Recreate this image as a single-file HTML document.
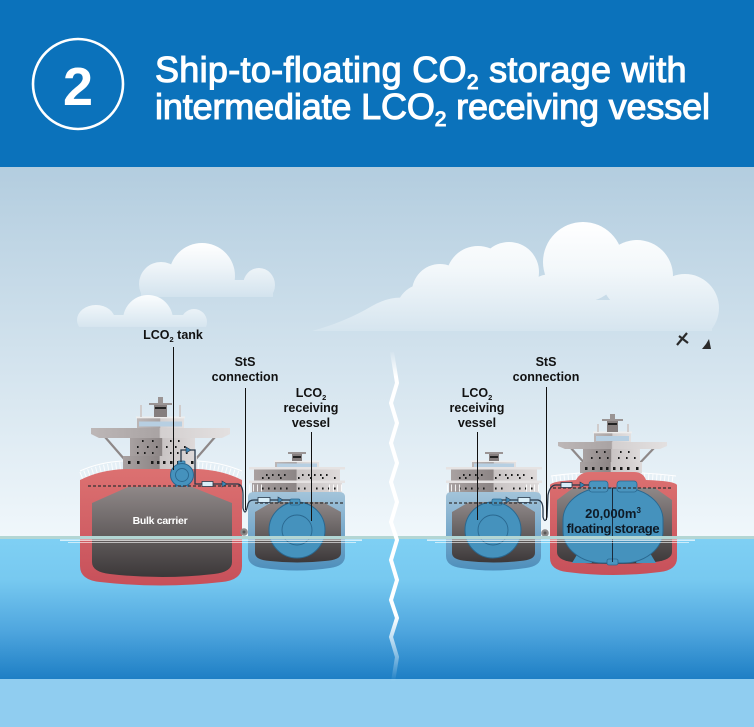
<!DOCTYPE html>
<html><head><meta charset="utf-8">
<style>
html,body{margin:0;padding:0;width:754px;height:727px;overflow:hidden;background:#fff}
svg{display:block}
text{font-family:"Liberation Sans",Arial,sans-serif}
</style></head><body>
<svg width="754" height="727" viewBox="0 0 754 727" xmlns="http://www.w3.org/2000/svg">
<defs>
 <linearGradient id="sky" x1="0" y1="167" x2="0" y2="537" gradientUnits="userSpaceOnUse">
  <stop offset="0" stop-color="#b3cddf"/><stop offset="1" stop-color="#f0f7fb"/>
 </linearGradient>
 <linearGradient id="sea" x1="0" y1="537" x2="0" y2="679" gradientUnits="userSpaceOnUse">
  <stop offset="0" stop-color="#7fd0f4"/><stop offset="0.3" stop-color="#77c9f0"/>
  <stop offset="0.65" stop-color="#50a7df"/><stop offset="1" stop-color="#1e7fc5"/>
 </linearGradient>
 <linearGradient id="c1" x1="0" y1="243" x2="0" y2="297" gradientUnits="userSpaceOnUse">
  <stop offset="0" stop-color="#ffffff"/><stop offset="0.45" stop-color="#eef4f8"/><stop offset="1" stop-color="#d3e3ee"/>
 </linearGradient>
 <linearGradient id="c2" x1="0" y1="295" x2="0" y2="327" gradientUnits="userSpaceOnUse">
  <stop offset="0" stop-color="#fbfdfe"/><stop offset="1" stop-color="#d6e5ef"/>
 </linearGradient>
 <linearGradient id="c3" x1="0" y1="222" x2="0" y2="331" gradientUnits="userSpaceOnUse">
  <stop offset="0" stop-color="#ffffff"/><stop offset="0.45" stop-color="#f2f7fa"/><stop offset="1" stop-color="#d6e5ef"/>
 </linearGradient>
 <linearGradient id="lg" x1="0" y1="350" x2="0" y2="682" gradientUnits="userSpaceOnUse">
  <stop offset="0" stop-color="#fff" stop-opacity="0"/><stop offset="0.08" stop-color="#fff" stop-opacity="1"/>
  <stop offset="0.8" stop-color="#fff" stop-opacity="1"/><stop offset="1" stop-color="#fff" stop-opacity="0"/>
 </linearGradient>
 <linearGradient id="red" x1="0" y1="0" x2="0" y2="1">
  <stop offset="0" stop-color="#dc7171"/><stop offset="1" stop-color="#c7505a"/>
 </linearGradient>
 <linearGradient id="hold" x1="0" y1="0" x2="0" y2="1">
  <stop offset="0" stop-color="#8f8888"/><stop offset="1" stop-color="#3c3839"/>
 </linearGradient>
 <linearGradient id="blue" x1="0" y1="0" x2="0" y2="1">
  <stop offset="0" stop-color="#a3c4da"/><stop offset="1" stop-color="#4d8ebb"/>
 </linearGradient>
 <linearGradient id="sup" x1="0" y1="0" x2="1" y2="0">
  <stop offset="0" stop-color="#a8a1a1"/><stop offset="0.49" stop-color="#8c8585"/>
  <stop offset="0.5" stop-color="#c8c3c3"/><stop offset="1" stop-color="#dedada"/>
 </linearGradient>
 <linearGradient id="supL" x1="0" y1="0" x2="1" y2="0">
  <stop offset="0" stop-color="#bdb7b7"/><stop offset="0.49" stop-color="#a9a3a3"/>
  <stop offset="0.5" stop-color="#d3cfcf"/><stop offset="1" stop-color="#e3e0e0"/>
 </linearGradient>
 <clipPath id="k1"><rect x="0" y="0" width="754" height="297"/></clipPath>
 <clipPath id="k2"><rect x="0" y="0" width="754" height="327"/></clipPath>
 <clipPath id="k3"><rect x="0" y="0" width="754" height="331"/></clipPath>
</defs>

<!-- header -->
<rect x="0" y="0" width="754" height="167" fill="#0b72bb"/>
<circle cx="78" cy="84" r="45" fill="none" stroke="#fff" stroke-width="2.6"/>
<text x="78" y="105" font-size="54" font-weight="bold" fill="#fff" text-anchor="middle">2</text>
<text x="155" y="82" font-size="36" fill="#fff" stroke="#fff" stroke-width="1.1" letter-spacing="0.3">Ship-to-floating CO<tspan font-size="21" dy="7">2</tspan><tspan dy="-7"> storage with</tspan></text>
<text x="155" y="119" font-size="36" fill="#fff" stroke="#fff" stroke-width="1.1" letter-spacing="-0.15">intermediate LCO<tspan font-size="21" dy="7">2</tspan><tspan dy="-7"> receiving vessel</tspan></text>

<!-- sky -->
<rect x="0" y="167" width="754" height="371" fill="url(#sky)"/>

<!-- clouds -->
<g clip-path="url(#k1)" fill="url(#c1)">
 <circle cx="202" cy="276" r="33"/>
 <circle cx="161" cy="284" r="22"/>
 <ellipse cx="259" cy="285" rx="16" ry="17"/>
 <rect x="141" y="280" width="132" height="17"/>
</g>
<g clip-path="url(#k2)" fill="url(#c2)">
 <circle cx="148" cy="320" r="25"/>
 <ellipse cx="96" cy="320" rx="19" ry="15"/>
 <ellipse cx="194" cy="322" rx="13" ry="13"/>
 <rect x="80" y="315" width="125" height="12"/>
</g>
<g clip-path="url(#k3)" fill="url(#c3)">
 <circle cx="583" cy="262" r="40"/>
 <circle cx="637" cy="276" r="36"/>
 <circle cx="685" cy="308" r="34"/>
 <circle cx="509" cy="272" r="30"/>
 <circle cx="478" cy="278" r="32"/>
 <circle cx="440" cy="292" r="28"/>
 <circle cx="424" cy="312" r="28"/>
 <circle cx="552" cy="308" r="34"/>
 <path d="M312,331 Q345,322 372,306 Q390,296 405,298 L405,331 Z"/>
 <rect x="400" y="300" width="312" height="31"/>
</g>

<!-- birds -->
<path d="M677,345 L687,333 M679,336 L688,343" stroke="#2a2a2a" stroke-width="2.2" fill="none"/>
<path d="M702,349 L711,349 L709,339 L706,344 Z" fill="#2a2a2a"/>

<!-- sea -->
<rect x="0" y="537" width="754" height="142" fill="url(#sea)"/>
<rect x="0" y="679" width="754" height="48" fill="#90cdf0"/>

<!-- ========== BULK CARRIER ========== -->
<line x1="105" y1="437" x2="125" y2="460" stroke="#8e8888" stroke-width="2.2"/>
<line x1="215" y1="437" x2="195" y2="460" stroke="#8e8888" stroke-width="2.2"/>
<rect x="130" y="436" width="65" height="25" fill="url(#sup)"/>
<rect x="123" y="456" width="74" height="14" fill="url(#sup)"/>
<path d="M91,428 H230 V434 L222,438 H99 L91,434 Z" fill="url(#supL)"/>
<rect x="137" y="418" width="47" height="10" fill="url(#supL)"/>
<rect x="139" y="421.5" width="43" height="5" fill="#b7cfe2"/>
<rect x="136" y="416.5" width="49" height="1.8" fill="#eeeeee"/>
<rect x="154" y="404" width="13" height="13" fill="#857e7e"/>
<rect x="155" y="407" width="11" height="2" fill="#222"/>
<rect x="149" y="403" width="23" height="2" fill="#9a9494"/>
<rect x="158" y="397" width="5" height="6" fill="#9a9494"/>
<rect x="140" y="405" width="2" height="12" fill="#d0cccc"/>
<rect x="179" y="405" width="2" height="12" fill="#d0cccc"/>
<g fill="#1a1a1a">
 <rect x="142" y="440" width="1.6" height="2"/><rect x="152" y="440" width="1.6" height="2"/><rect x="170" y="440" width="1.6" height="2"/><rect x="178" y="440" width="1.6" height="2"/>
 <rect x="137" y="446" width="1.6" height="2"/><rect x="147" y="446" width="1.6" height="2"/><rect x="156" y="446" width="1.6" height="2"/><rect x="166" y="446" width="1.6" height="2"/><rect x="175" y="446" width="1.6" height="2"/><rect x="184" y="446" width="1.6" height="2"/>
 <rect x="137" y="452" width="1.6" height="2"/><rect x="144" y="452" width="1.6" height="2"/><rect x="152" y="452" width="1.6" height="2"/><rect x="170" y="452" width="1.6" height="2"/><rect x="177" y="452" width="1.6" height="2"/><rect x="186" y="452" width="1.6" height="2"/>
 <rect x="128" y="461" width="2.5" height="3"/><rect x="137" y="461" width="2.5" height="3"/><rect x="151" y="461" width="2.5" height="3"/><rect x="157" y="461" width="2.5" height="3"/><rect x="163" y="461" width="2.5" height="3"/><rect x="170" y="461" width="2.5" height="3"/><rect x="177" y="461" width="2.5" height="3"/><rect x="191" y="461" width="2.5" height="3"/>
</g>
<!-- rails -->
<path d="M81,476 Q100,468 122,466" stroke="#fff" stroke-width="8" stroke-dasharray="1 3" fill="none" opacity="0.85"/>
<path d="M80,471 Q100,462 123,461" stroke="#fff" stroke-width="1.1" fill="none"/>
<path d="M198,466 Q220,468 241,476" stroke="#fff" stroke-width="8" stroke-dasharray="1 3" fill="none" opacity="0.85"/>
<path d="M197,461 Q220,462 242,471" stroke="#fff" stroke-width="1.1" fill="none"/>
<!-- hull -->
<path d="M80,480 Q100,470 125,469 L197,469 Q222,470 242,480 L242,566 Q242,580 222,582 Q161,589 100,582 Q80,580 80,566 Z" fill="url(#red)"/>
<path d="M92,503 L128,487 L192,487 L232,503 L232,562 Q232,572 214,574 Q162,580 110,574 Q92,572 92,562 Z" fill="url(#hold)"/>
<!-- deck tank -->
<rect x="175" y="482" width="2.5" height="5" fill="#3b86b5"/><rect x="187" y="482" width="2.5" height="5" fill="#3b86b5"/>
<rect x="178" y="461" width="7" height="5" rx="1" fill="#4a95bf" stroke="#2a6890" stroke-width="0.8"/>
<circle cx="182" cy="475" r="11.5" fill="#4592bd" stroke="#2a6890" stroke-width="1"/>
<circle cx="182" cy="475" r="6.5" fill="none" stroke="#2a6890" stroke-width="0.9"/>
<line x1="88" y1="486" x2="240" y2="486" stroke="#333" stroke-width="1.2" stroke-dasharray="3 2"/>
<text x="160" y="524" font-size="10.5" font-weight="bold" fill="#fff" text-anchor="middle" letter-spacing="-0.3">Bulk carrier</text>

<!-- ========== LEFT RECEIVING VESSEL ========== -->
<rect x="275" y="462" width="44" height="6" fill="url(#supL)"/>
<rect x="277" y="463.5" width="40" height="3.5" fill="#b7cfe2"/>
<rect x="274" y="460.5" width="46" height="1.5" fill="#eee"/>
<rect x="292" y="453" width="10" height="8" fill="#857e7e"/>
<rect x="293" y="456" width="8" height="2" fill="#222"/>
<rect x="288" y="452" width="18" height="2" fill="#9a9494"/>
<rect x="254" y="469" width="86" height="12" fill="url(#sup)"/>
<rect x="252" y="483" width="90" height="10" fill="url(#sup)"/>
<rect x="249" y="467" width="96" height="2.5" fill="#e6e3e3"/>
<rect x="249" y="480.5" width="96" height="2.5" fill="#e6e3e3"/>
<g fill="#1a1a1a">
 <rect x="266" y="474" width="1.6" height="2"/><rect x="272" y="474" width="1.6" height="2"/><rect x="278" y="474" width="1.6" height="2"/><rect x="284" y="474" width="1.6" height="2"/><rect x="302" y="474" width="1.6" height="2"/><rect x="308" y="474" width="1.6" height="2"/><rect x="314" y="474" width="1.6" height="2"/><rect x="320" y="474" width="1.6" height="2"/><rect x="326" y="474" width="1.6" height="2"/>
 <rect x="262" y="477" width="1.6" height="2"/><rect x="268" y="477" width="1.6" height="2"/><rect x="280" y="477" width="1.6" height="2"/><rect x="298" y="477" width="1.6" height="2"/><rect x="310" y="477" width="1.6" height="2"/><rect x="322" y="477" width="1.6" height="2"/><rect x="334" y="477" width="1.6" height="2"/>
 <rect x="262" y="487.5" width="1.6" height="2"/><rect x="268" y="487.5" width="1.6" height="2"/><rect x="274" y="487.5" width="1.6" height="2"/><rect x="280" y="487.5" width="1.6" height="2"/><rect x="286" y="487.5" width="1.6" height="2"/><rect x="298" y="487.5" width="1.6" height="2"/><rect x="304" y="487.5" width="1.6" height="2"/><rect x="316" y="487.5" width="1.6" height="2"/><rect x="322" y="487.5" width="1.6" height="2"/><rect x="328" y="487.5" width="1.6" height="2"/><rect x="334" y="487.5" width="1.6" height="2"/>
</g>
<path d="M249,488 H264 M329,488 H345" stroke="#fff" stroke-width="7" stroke-dasharray="1 3" opacity="0.85"/>
<path d="M248,497 Q248,492 254,492 L339,492 Q345,492 345,497 L345,556 Q345,566 330,568 Q297,573 263,568 Q248,566 248,556 Z" fill="url(#blue)"/>
<path d="M255,512 L272,502 L323,502 L341,512 L341,553 Q341,560 325,561 Q297,564 270,561 Q255,560 255,553 Z" fill="url(#hold)"/>
<circle cx="297" cy="530" r="28" fill="#4592bd" stroke="#2a6890" stroke-width="1"/>
<circle cx="297" cy="530" r="15" fill="none" stroke="#2a6890" stroke-width="0.9"/>
<rect x="290" y="499" width="10" height="6" rx="1.5" fill="#4a95bf" stroke="#2a6890" stroke-width="0.8"/>
<line x1="255" y1="503" x2="345" y2="503" stroke="#333" stroke-width="1.2" stroke-dasharray="3 2"/>

<!-- ========== RIGHT RECEIVING VESSEL ========== -->
<rect x="472" y="462" width="44" height="6" fill="url(#supL)"/>
<rect x="474" y="463.5" width="40" height="3.5" fill="#b7cfe2"/>
<rect x="471" y="460.5" width="46" height="1.5" fill="#eee"/>
<rect x="489" y="453" width="10" height="8" fill="#857e7e"/>
<rect x="490" y="456" width="8" height="2" fill="#222"/>
<rect x="485" y="452" width="18" height="2" fill="#9a9494"/>
<rect x="451" y="469" width="86" height="12" fill="url(#sup)"/>
<rect x="449" y="483" width="90" height="10" fill="url(#sup)"/>
<rect x="446" y="467" width="96" height="2.5" fill="#e6e3e3"/>
<rect x="446" y="480.5" width="96" height="2.5" fill="#e6e3e3"/>
<g fill="#1a1a1a">
 <rect x="463" y="474" width="1.6" height="2"/><rect x="469" y="474" width="1.6" height="2"/><rect x="475" y="474" width="1.6" height="2"/><rect x="481" y="474" width="1.6" height="2"/><rect x="499" y="474" width="1.6" height="2"/><rect x="505" y="474" width="1.6" height="2"/><rect x="511" y="474" width="1.6" height="2"/><rect x="517" y="474" width="1.6" height="2"/><rect x="523" y="474" width="1.6" height="2"/>
 <rect x="459" y="477" width="1.6" height="2"/><rect x="465" y="477" width="1.6" height="2"/><rect x="477" y="477" width="1.6" height="2"/><rect x="495" y="477" width="1.6" height="2"/><rect x="507" y="477" width="1.6" height="2"/><rect x="519" y="477" width="1.6" height="2"/><rect x="531" y="477" width="1.6" height="2"/>
 <rect x="459" y="487.5" width="1.6" height="2"/><rect x="465" y="487.5" width="1.6" height="2"/><rect x="471" y="487.5" width="1.6" height="2"/><rect x="477" y="487.5" width="1.6" height="2"/><rect x="483" y="487.5" width="1.6" height="2"/><rect x="495" y="487.5" width="1.6" height="2"/><rect x="501" y="487.5" width="1.6" height="2"/><rect x="513" y="487.5" width="1.6" height="2"/><rect x="519" y="487.5" width="1.6" height="2"/><rect x="525" y="487.5" width="1.6" height="2"/><rect x="531" y="487.5" width="1.6" height="2"/>
</g>
<path d="M447,488 H461 M526,488 H541" stroke="#fff" stroke-width="7" stroke-dasharray="1 3" opacity="0.85"/>
<path d="M446,497 Q446,492 452,492 L535,492 Q541,492 541,497 L541,556 Q541,566 526,568 Q493,573 461,568 Q446,566 446,556 Z" fill="url(#blue)"/>
<path d="M452,512 L469,502 L519,502 L535,512 L535,553 Q535,560 520,561 Q493,564 467,561 Q452,560 452,553 Z" fill="url(#hold)"/>
<circle cx="493" cy="530" r="28" fill="#4592bd" stroke="#2a6890" stroke-width="1"/>
<circle cx="493" cy="530" r="15" fill="none" stroke="#2a6890" stroke-width="0.9"/>
<rect x="492" y="499" width="10" height="6" rx="1.5" fill="#4a95bf" stroke="#2a6890" stroke-width="0.8"/>
<line x1="449" y1="503" x2="539" y2="503" stroke="#333" stroke-width="1.2" stroke-dasharray="3 2"/>

<!-- ========== FLOATING STORAGE ========== -->
<line x1="570" y1="447" x2="587" y2="466" stroke="#8e8888" stroke-width="2.2"/>
<line x1="655" y1="447" x2="637" y2="466" stroke="#8e8888" stroke-width="2.2"/>
<rect x="583" y="447" width="57" height="20" fill="url(#sup)"/>
<rect x="580" y="462" width="62" height="11" fill="url(#sup)"/>
<path d="M558,442 H667 V446 L660,449 H565 L558,446 Z" fill="url(#supL)"/>
<rect x="594" y="433" width="37" height="9" fill="url(#supL)"/>
<rect x="596" y="436" width="33" height="5" fill="#b7cfe2"/>
<rect x="593" y="431.5" width="39" height="1.8" fill="#eee"/>
<rect x="607" y="420" width="11" height="12" fill="#857e7e"/>
<rect x="608" y="423" width="9" height="2" fill="#222"/>
<rect x="602" y="419" width="21" height="2" fill="#9a9494"/>
<rect x="610" y="414" width="5" height="5" fill="#9a9494"/>
<rect x="597" y="424" width="2" height="8" fill="#d0cccc"/>
<rect x="627" y="424" width="2" height="8" fill="#d0cccc"/>
<g fill="#1a1a1a">
 <rect x="596" y="451" width="1.6" height="2"/><rect x="604" y="451" width="1.6" height="2"/><rect x="620" y="451" width="1.6" height="2"/><rect x="628" y="451" width="1.6" height="2"/>
 <rect x="591" y="457" width="1.6" height="2"/><rect x="599" y="457" width="1.6" height="2"/><rect x="607" y="457" width="1.6" height="2"/><rect x="618" y="457" width="1.6" height="2"/><rect x="626" y="457" width="1.6" height="2"/><rect x="634" y="457" width="1.6" height="2"/>
 <rect x="585" y="467" width="2.5" height="3"/><rect x="592" y="467" width="2.5" height="3"/><rect x="600" y="467" width="2.5" height="3"/><rect x="606" y="467" width="2.5" height="3"/><rect x="613" y="467" width="2.5" height="3"/><rect x="620" y="467" width="2.5" height="3"/><rect x="627" y="467" width="2.5" height="3"/><rect x="636" y="467" width="2.5" height="3"/>
</g>
<path d="M552,480 Q565,478 578,477 M644,477 Q660,478 675,480" stroke="#fff" stroke-width="7" stroke-dasharray="1 3" fill="none" opacity="0.85"/>
<path d="M551,476 Q565,474 580,473 M642,473 Q660,474 676,476" stroke="#fff" stroke-width="1.1" fill="none"/>
<path d="M550,485 Q552,481 576,480 Q580,472 590,472 L634,472 Q643,472 646,480 Q675,481 677,485 L677,558 Q677,570 660,572 Q613,578 567,572 Q550,570 550,558 Z" fill="url(#red)"/>
<path d="M557,500 L573,488 L655,488 L672,500 L672,552 Q672,560 655,562 Q613,566 572,562 Q557,560 557,552 Z" fill="url(#hold)"/>
<path d="M572,563 L578,553 L588,553 L592,563 Z M636,563 L640,553 L650,553 L656,563 Z" fill="#4592bd"/>
<rect x="563" y="488" width="100" height="75" rx="40" ry="32" fill="#4592bd" stroke="#2a6890" stroke-width="1"/>
<rect x="607" y="559" width="11" height="6" rx="2" fill="#4a95bf" stroke="#2a6890" stroke-width="0.8"/>
<rect x="589" y="481" width="19" height="11" rx="3" fill="#4a95bf" stroke="#2a6890" stroke-width="0.8"/>
<rect x="617" y="481" width="20" height="11" rx="3" fill="#4a95bf" stroke="#2a6890" stroke-width="0.8"/>
<line x1="612.5" y1="488" x2="612.5" y2="562" stroke="#1a2a3a" stroke-width="1"/>
<line x1="553" y1="488" x2="672" y2="488" stroke="#333" stroke-width="1.2" stroke-dasharray="3 2"/>
<text x="613" y="518" font-size="13" font-weight="bold" fill="#0e1a26" text-anchor="middle">20,000m<tspan font-size="8" dy="-5">3</tspan></text>
<text x="613" y="533" font-size="13" font-weight="bold" fill="#0e1a26" text-anchor="middle" letter-spacing="-0.3">floating storage</text>

<!-- ========== PIPES / HOSES ========== -->
<g fill="none" stroke="#27384a" stroke-width="1.3">
 <path d="M181,462 V450 H195 V484 H238 Q243,485 243,495 L243,508 Q245,516 247,508 L248,504 Q249,500 254,500 H290"/>
 <path d="M502,500 H538 Q543,501 543,510 L543,517 Q545,524 547,517 L548,495 Q550,485 556,485 H589"/>
</g>
<g fill="#d9eef8" stroke="#27384a" stroke-width="0.8">
 <rect x="202" y="481.5" width="11" height="5"/>
 <rect x="258" y="497.5" width="12" height="5"/>
 <rect x="518" y="497.5" width="12" height="5"/>
 <rect x="561" y="482.5" width="11" height="5"/>
</g>
<g fill="#3b86b5" stroke="#27384a" stroke-width="0.6">
 <path d="M186,447 L191,450 L186,453 Z"/>
 <path d="M222,481 L227,484 L222,487 Z"/>
 <path d="M278,497 L283,500 L278,503 Z"/>
 <path d="M506,497 L511,500 L506,503 Z"/>
 <path d="M580,482 L585,485 L580,488 Z"/>
</g>
<!-- fenders -->
<circle cx="244" cy="532" r="3.8" fill="#8c8a8a"/><circle cx="244" cy="532" r="1.5" fill="#5a5858"/>
<circle cx="545" cy="533" r="3.8" fill="#8c8a8a"/><circle cx="545" cy="533" r="1.5" fill="#5a5858"/>

<!-- water surface -->
<rect x="0" y="536" width="754" height="3" fill="#b3d6d4"/>
<rect x="60" y="539.5" width="302" height="1.3" fill="#fff" opacity="0.85"/>
<rect x="68" y="542" width="288" height="1" fill="#fff" opacity="0.6"/>
<rect x="427" y="539.5" width="268" height="1.3" fill="#fff" opacity="0.85"/>
<rect x="435" y="542" width="254" height="1" fill="#fff" opacity="0.6"/>

<!-- lightning -->
<polyline points="392,352 397,383 391,403 397,423 391,443 397,463 391,482 397,502 391,522 397,540 391,560 397,580 391,600 397,618 391,637 397,657 393,682" fill="none" stroke="url(#lg)" stroke-width="4" stroke-linejoin="miter"/>

<!-- leaders -->
<g stroke="#111" stroke-width="1">
 <line x1="173.5" y1="347" x2="173.5" y2="470"/>
 <line x1="245.5" y1="388" x2="245.5" y2="510"/>
 <line x1="311.5" y1="432" x2="311.5" y2="521"/>
 <line x1="477.5" y1="432" x2="477.5" y2="520"/>
 <line x1="546.5" y1="387" x2="546.5" y2="520"/>
</g>

<!-- labels -->
<g font-size="12.5" font-weight="bold" fill="#111" text-anchor="middle">
 <text x="173" y="339">LCO<tspan font-size="7.5" dy="3">2</tspan><tspan dy="-3"> tank</tspan></text>
 <text x="245" y="366">StS</text>
 <text x="245" y="381">connection</text>
 <text x="311" y="397">LCO<tspan font-size="7.5" dy="3">2</tspan></text>
 <text x="311" y="412">receiving</text>
 <text x="311" y="427">vessel</text>
 <text x="477" y="397">LCO<tspan font-size="7.5" dy="3">2</tspan></text>
 <text x="477" y="412">receiving</text>
 <text x="477" y="427">vessel</text>
 <text x="546" y="366">StS</text>
 <text x="546" y="381">connection</text>
</g>
</svg>
</body></html>
